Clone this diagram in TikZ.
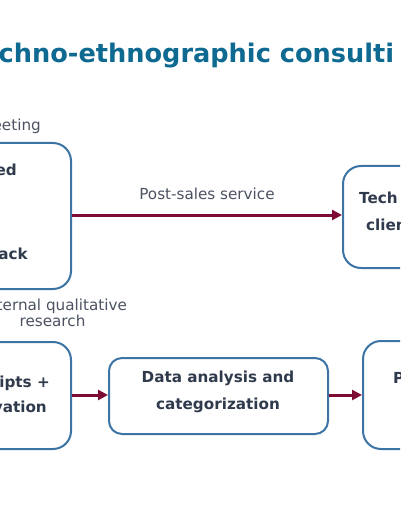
\documentclass[tikz,border=0pt]{standalone}
\usepackage{fontspec}
\setmainfont{DejaVu Sans}
\usetikzlibrary{arrows.meta}
\definecolor{boxblue}{HTML}{3C74A5}
\definecolor{arrowred}{HTML}{7E0B36}
\definecolor{titleblue}{HTML}{0F6A92}
\definecolor{boxtext}{HTML}{2F3A4C}
\definecolor{labeltext}{HTML}{4B5262}
\tikzset{
  stepbox/.style={draw=boxblue, line width=2bp, rounded corners=18bp, inner sep=0pt, fill=white},
  boxlabel/.style={font=\fontsize{15.2bp}{27bp}\selectfont\bfseries, text=boxtext, inner sep=0pt, align=center},
  edgelabel/.style={font=\fontsize{15.2bp}{16.7bp}\selectfont, text=labeltext, inner sep=0pt, align=center},
  flow/.style={draw=arrowred, line width=3bp, -{Triangle[length=10bp,width=10bp]}},
}
\begin{document}
\begin{tikzpicture}[x=1bp,y=-1bp]
\useasboundingbox (0,0) rectangle (400,516);
\clip (0,0) rectangle (400,516);
\fill[white] (0,0) rectangle (400,516);

% title
\node[anchor=base west, inner sep=0pt, text=titleblue, font=\fontsize{25.6bp}{30bp}\selectfont\bfseries] (title) at (-1.5,63) {chno-ethnographic consulti};

% boxes
\node[stepbox, minimum width=172bp, minimum height=146bp, anchor=north east] (A) at (72,142) {};
\node[stepbox, minimum width=160bp, minimum height=102bp, anchor=north west] (B) at (342,165) {};
\node[stepbox, minimum width=172bp, minimum height=107bp, anchor=north east] (C) at (72,341) {};
\node[stepbox, rounded corners=13bp, minimum width=219bp, minimum height=76bp, anchor=north west] (D) at (108,357) {};
\node[stepbox, minimum width=160bp, minimum height=108bp, anchor=north west] (E) at (362,340) {};

% box texts
\node[boxlabel, anchor=base east] (a1) at (17,176) {ed};
\node[boxlabel, anchor=base east] (a2) at (28,259) {ack};
\node[boxlabel, anchor=base west] (b1) at (359,203.3) {Tech};
\node[boxlabel, anchor=base west] (b2) at (366,230) {clien};
\node[boxlabel, anchor=base east] (c1) at (50,387) {ripts +};
\node[boxlabel, anchor=base east] (c2) at (47,412.7) {vation};
\node[boxlabel, anchor=base] (d1) at (218,382.7) {Data analysis and};
\node[boxlabel, anchor=base] (d2) at (218,409.7) {categorization};
\node[boxlabel, anchor=base west] (e1) at (393,383) {P};

% outside labels
\node[edgelabel, anchor=base east] (meet) at (41,131) {eeting};
\node[edgelabel, anchor=base] (ext1) at (52.5,310) {External qualitative};
\node[edgelabel, anchor=base] (ext2) at (52.5,326.7) {research};

% connectors
\draw[flow] (A.east |- 0,215) -- (B.west |- 0,215) node[midway, above=14bp, edgelabel] (post) {Post-sales service};
\draw[flow] (C.east |- 0,395) -- (D.west |- 0,395);
\draw[flow] (D.east |- 0,395) -- (E.west |- 0,395);
\end{tikzpicture}
\end{document}
